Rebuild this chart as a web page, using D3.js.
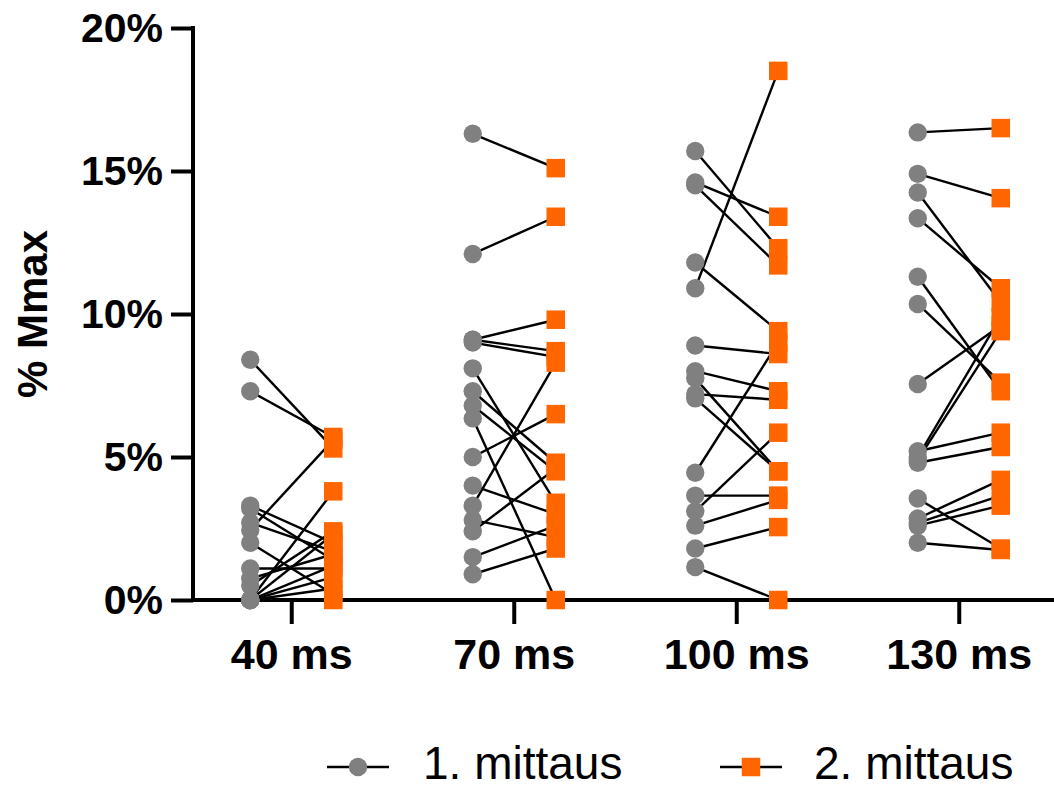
<!DOCTYPE html>
<html>
<head>
<meta charset="utf-8">
<script src="https://cdn.jsdelivr.net/npm/d3@7/dist/d3.min.js"></script>
<style>
  html, body { margin: 0; padding: 0; background: #fff; }
  svg { display: block; font-family: "Liberation Sans", Arial, sans-serif; }
</style>
</head>
<body>
<svg id="chart" width="1054" height="790"></svg>
<script>
// ---- data (values in % Mmax) ----
const groups = ["40 ms", "70 ms", "100 ms", "130 ms"];
const seriesNames = ["1. mittaus", "2. mittaus"];
const yTicks = [0, 5, 10, 15, 20];

const first40  = [8.4, 7.3, 3.3, 3.2, 2.7, 2.45, 2.0, 1.1, 0.75, 0.5, 0, 0, 0, 0, 0, 0];
const second40 = [5.3, 5.7, 2.0, 1.4, 1.7, 5.6, 0.2, 1.1, 1.6, 2.4, 3.8, 2.3, 1.2, 0.8, 0.4, 0.0];

const first70  = [16.3, 12.1, 9.1, 9.1, 9.0, 8.1, 7.3, 6.8, 6.35, 5.0, 4.0, 3.3, 2.8, 2.4, 1.5, 0.9];
const second70 = [15.1, 13.4, 9.8, 8.7, 8.5, 3.4, 4.8, 4.5, 0.0, 6.5, 3.0, 8.3, 2.2, 4.6, 2.6, 1.8];

const first100  = [15.7, 14.6, 14.5, 11.8, 10.9, 8.9, 8.0, 7.75, 7.2, 7.05, 4.45, 3.65, 3.1, 2.6, 1.8, 1.15];
const second100 = [12.3, 13.4, 11.7, 9.4, 18.5, 8.6, 7.3, 4.5, 7.0, 4.5, 9.0, 3.65, 5.85, 3.5, 2.55, 0.0];

const first130  = [16.35, 14.9, 14.25, 13.35, 11.3, 10.35, 7.55, 5.2, 5.0, 4.9, 4.8, 3.55, 2.85, 2.7, 2.6, 2.0];
const second130 = [16.5, 14.05, 10.4, 10.9, 7.3, 7.6, 9.6, 5.85, 9.9, 9.4, 5.35, 1.8, 4.2, 3.65, 3.3, 1.75];

const firstByGroup  = [first40, first70, first100, first130];
const secondByGroup = [second40, second70, second100, second130];

// ---- layout ----
const svg = d3.select("#chart");
const x = d3.scaleBand().domain(groups).range([180.5, 1070.5]);
const inner = d3.scalePoint().domain(seriesNames).range([-41.5, 41.5]);
const y = d3.scaleLinear().domain([0, 20]).range([600, 28]);

const grey = "#808080", orange = "#FF6600";

// pairs
const pairs = [];
groups.forEach((g, gi) => {
  firstByGroup[gi].forEach((v, i) => {
    pairs.push({ g, a: v, b: secondByGroup[gi][i] });
  });
});

const cx = (g, s) => x(g) + x.bandwidth() / 2 + inner(s);

// connecting lines
svg.append("g").selectAll("line").data(pairs).join("line")
  .attr("x1", d => cx(d.g, seriesNames[0]))
  .attr("y1", d => y(d.a))
  .attr("x2", d => cx(d.g, seriesNames[1]))
  .attr("y2", d => y(d.b))
  .attr("stroke", "#000").attr("stroke-width", 2.4);

// axes
const yAxis = d3.axisLeft(y).tickValues(yTicks).tickFormat(d => d + "%").tickSize(22).tickSizeOuter(0).tickPadding(8);
const gy = svg.append("g").attr("transform", "translate(193,0)").call(yAxis);
gy.select(".domain").remove();
gy.selectAll(".tick line").attr("stroke", "#000").attr("stroke-width", 4);
gy.selectAll(".tick text").attr("font-size", 41).attr("font-weight", "bold").attr("fill", "#000")
  .attr("font-family", "Liberation Sans, Arial, sans-serif");
svg.append("line").attr("x1", 193).attr("x2", 193).attr("y1", y(20) - 2).attr("y2", y(0) + 2)
  .attr("stroke", "#000").attr("stroke-width", 4);

const xAxis = d3.axisBottom(x).tickSize(24).tickSizeOuter(0).tickPadding(14);
const gx = svg.append("g").attr("transform", "translate(0,600)").call(xAxis);
gx.select(".domain").remove();
gx.selectAll(".tick line").attr("stroke", "#000").attr("stroke-width", 4);
gx.selectAll(".tick text").attr("font-size", 43).attr("font-weight", "bold").attr("fill", "#000")
  .attr("font-family", "Liberation Sans, Arial, sans-serif");
svg.append("line").attr("x1", 191).attr("x2", 1054).attr("y1", y(0)).attr("y2", y(0))
  .attr("stroke", "#000").attr("stroke-width", 4);

// markers
svg.append("g").selectAll("circle").data(pairs).join("circle")
  .attr("cx", d => cx(d.g, seriesNames[0]))
  .attr("cy", d => y(d.a))
  .attr("r", 9.2).attr("fill", grey);

const sq = 18.5;
svg.append("g").selectAll("rect").data(pairs).join("rect")
  .attr("x", d => cx(d.g, seriesNames[1]) - sq / 2)
  .attr("y", d => y(d.b) - sq / 2)
  .attr("width", sq).attr("height", sq).attr("fill", orange);

// y title
svg.append("text")
  .attr("transform", `translate(47,${(y(0) + y(20)) / 2}) rotate(-90)`)
  .attr("text-anchor", "middle")
  .attr("font-size", 42).attr("font-weight", "bold").attr("fill", "#000")
  .text("% Mmax");

// legend
const legend = [
  { name: seriesNames[0], lx: 327, tx: 423, shape: "circle", color: grey },
  { name: seriesNames[1], lx: 720, tx: 814, shape: "square", color: orange }
];
const ly = 767;
const lg = svg.append("g");
legend.forEach(l => {
  lg.append("line").attr("x1", l.lx).attr("x2", l.lx + 62).attr("y1", ly).attr("y2", ly)
    .attr("stroke", "#000").attr("stroke-width", 2.4);
  if (l.shape === "circle") {
    lg.append("circle").attr("cx", l.lx + 31).attr("cy", ly).attr("r", 9.2).attr("fill", l.color);
  } else {
    lg.append("rect").attr("x", l.lx + 31 - sq / 2).attr("y", ly - sq / 2).attr("width", sq).attr("height", sq).attr("fill", l.color);
  }
  lg.append("text").attr("x", l.tx).attr("y", 779)
    .attr("font-size", 46).attr("fill", "#000").text(l.name);
});
</script>
</body>
</html>
